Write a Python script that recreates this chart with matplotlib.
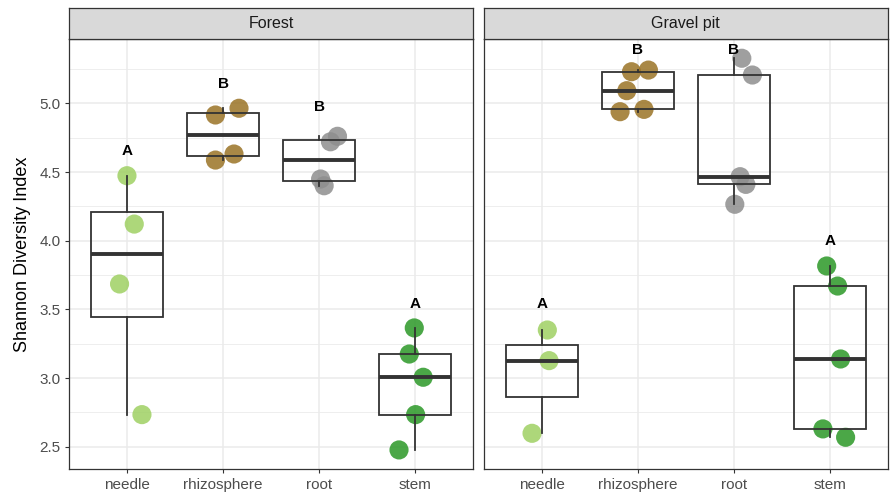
import matplotlib
matplotlib.use("Agg")
import matplotlib.pyplot as plt
import numpy as np

plt.rcParams['font.family'] = ['Liberation Sans', 'DejaVu Sans']

categories = ["needle", "rhizosphere", "root", "stem"]
sites = ["Forest", "Gravel pit"]

# Shannon values per site / tissue
forest_needle = [4.473, 4.121, 3.685, 2.734]
forest_rhizosphere = [4.915, 4.964, 4.587, 4.631]
forest_root = [4.720, 4.760, 4.449, 4.400]
forest_stem = [3.365, 3.175, 3.006, 2.734, 2.477]

gravel_needle = [3.350, 3.127, 2.598]
gravel_rhizosphere = [5.230, 5.242, 5.092, 4.939, 4.956]
gravel_root = [5.328, 5.206, 4.466, 4.410, 4.265]
gravel_stem = [3.816, 3.670, 3.139, 2.630, 2.569]

# horizontal jitter (category units)
forest_needle_jit = [0.0, 0.076, -0.077, 0.156]
forest_rhizosphere_jit = [-0.079, 0.166, -0.079, 0.114]
forest_root_jit = [0.118, 0.191, 0.015, 0.052]
forest_stem_jit = [-0.010, -0.062, 0.083, 0.004, -0.169]

gravel_needle_jit = [0.059, 0.077, -0.100]
gravel_rhizosphere_jit = [-0.065, 0.111, -0.114, -0.184, 0.065]
gravel_root_jit = [0.083, 0.193, 0.065, 0.125, 0.010]
gravel_stem_jit = [-0.034, 0.080, 0.111, -0.073, 0.163]

forest_letters = ["A", "B", "B", "A"]
forest_letter_y = [4.65, 5.14, 4.97, 3.54]
gravel_letters = ["A", "B", "B", "A"]
gravel_letter_y = [3.54, 5.39, 5.39, 4.00]

colors = ["#9fd063", "#9a7326", "#8e8e8e", "#2b9827"]

panels = [
    (sites[0], [forest_needle, forest_rhizosphere, forest_root, forest_stem],
     [forest_needle_jit, forest_rhizosphere_jit, forest_root_jit, forest_stem_jit],
     forest_letters, forest_letter_y),
    (sites[1], [gravel_needle, gravel_rhizosphere, gravel_root, gravel_stem],
     [gravel_needle_jit, gravel_rhizosphere_jit, gravel_root_jit, gravel_stem_jit],
     gravel_letters, gravel_letter_y),
]

W, H = 890, 496
fig = plt.figure(figsize=(W / 100, H / 100), dpi=100)

panel_lefts = [69.3, 484.0]
panel_width = 403.6
p_top, p_bot = 39.3, 469.3
s_top = 8.3

dark = "#333333"
for i, (site, data, jit, letters, ly) in enumerate(panels):
    l = panel_lefts[i]
    ax = fig.add_axes([l / W, (H - p_bot) / H, panel_width / W, (p_bot - p_top) / H])
    sax = fig.add_axes([l / W, (H - p_top) / H, panel_width / W, (p_top - s_top) / H])
    pos = np.arange(1, len(categories) + 1)

    for k, (vals, jj) in enumerate(zip(data, jit)):
        ax.scatter(pos[k] + np.array(jj), vals, s=190, color=colors[k], alpha=0.85,
                   edgecolors="none", zorder=2)

    ax.boxplot(data, positions=pos, widths=0.75, showcaps=False, showfliers=False,
               patch_artist=True, whis=1.5,
               boxprops=dict(facecolor="none", edgecolor=dark, linewidth=1.3),
               whiskerprops=dict(color=dark, linewidth=1.3),
               medianprops=dict(color=dark, linewidth=2.8),
               zorder=3)

    for k in range(len(categories)):
        ax.text(pos[k], ly[k], letters[k], ha="center", va="center",
                fontsize=11, fontweight="bold", color="black", zorder=4)

    ax.set_xlim(0.4, 4.6)
    ax.set_ylim(2.336, 5.466)
    ax.set_xticks(pos)
    ax.set_xticklabels(categories, fontsize=11, color="#4d4d4d")
    ax.set_yticks([2.5, 3.0, 3.5, 4.0, 4.5, 5.0])
    ax.set_yticks([2.75, 3.25, 3.75, 4.25, 4.75, 5.25], minor=True)
    ax.grid(True, which="major", color="#ebebeb", linewidth=1.1, zorder=0)
    ax.grid(True, which="minor", axis="y", color="#ebebeb", linewidth=0.6, zorder=0)
    ax.set_axisbelow(True)
    ax.tick_params(axis="both", which="major", length=3, color=dark, width=0.8)
    ax.tick_params(axis="both", which="minor", length=0)
    if i == 0:
        ax.set_yticklabels(["2.5", "3.0", "3.5", "4.0", "4.5", "5.0"], fontsize=11, color="#4d4d4d")
        ax.set_ylabel("Shannon Diversity Index", fontsize=13, color="black", labelpad=6)
    else:
        ax.tick_params(axis="y", which="both", left=False, labelleft=False)
    for sp in ax.spines.values():
        sp.set_color(dark)
        sp.set_linewidth(0.9)

    sax.set_facecolor("#d9d9d9")
    sax.set_xticks([])
    sax.set_yticks([])
    for sp in sax.spines.values():
        sp.set_color(dark)
        sp.set_linewidth(0.9)
    sax.text(0.5, 0.5, site, ha="center", va="center", fontsize=11.5,
             color="#1a1a1a", transform=sax.transAxes)

fig.savefig("out.png", dpi=100)
